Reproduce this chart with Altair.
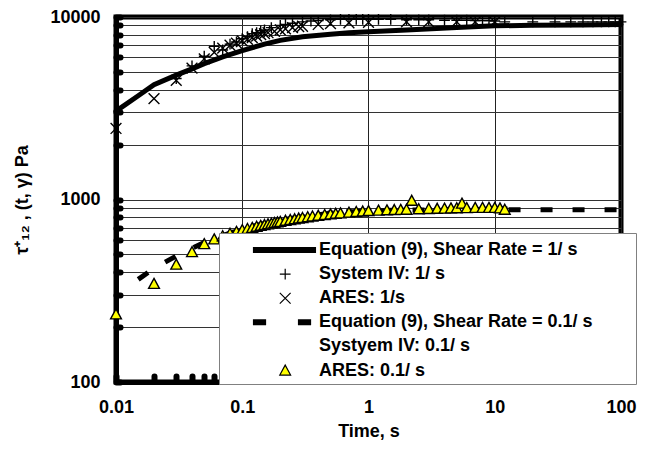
import altair as alt
import pandas as pd

FONT = "Liberation Sans"

series_names = [
    "Equation (9), Shear Rate = 1/ s",
    "System IV: 1/ s",
    "ARES: 1/s",
    "Equation (9), Shear Rate = 0.1/ s",
    "Systyem IV: 0.1/ s",
    "ARES: 0.1/ s",
]

# Equation (9), shear rate 1/s
eq1_t = [0.01, 0.015, 0.02, 0.03, 0.04, 0.05, 0.07, 0.1, 0.15, 0.2, 0.3, 0.5, 0.7, 1, 2, 5, 10, 20, 50, 100]
eq1_v = [3050, 3700, 4250, 4800, 5200, 5550, 6050, 6550, 7100, 7450, 7800, 8050, 8200, 8300, 8500, 8750, 8950, 9000, 9050, 9100]

# System IV: 1/s
sys1_t = [0.03, 0.04, 0.05, 0.06, 0.07, 0.08, 0.09, 0.1, 0.11, 0.12, 0.13, 0.14, 0.15, 0.17, 0.2, 0.22,
          0.25, 0.3, 0.35, 0.4, 0.5, 0.6, 0.7, 0.8, 0.9, 1, 1.2, 1.5, 2, 2.5, 3, 4, 5, 6, 7, 8, 9, 10,
          12, 20, 30, 40, 50, 60, 70, 80, 90, 100]
sys1_v = [4600, 5400, 6100, 6900, 6600, 7100, 7300, 7600, 7800, 8100, 8200, 8400, 8500, 8750, 9000, 9100,
          9250, 9400, 9500, 9550, 9650, 9700, 9700, 9700, 9700, 9700, 9700, 9700, 9650, 9650, 9650, 9600,
          9600, 9600, 9550, 9550, 9550, 9500, 9400, 9400, 9400, 9400, 9400, 9400, 9400, 9400, 9400, 9400]

# ARES: 1/s
ares1_t = [0.01, 0.02, 0.03, 0.04, 0.05, 0.06, 0.07, 0.08, 0.09, 0.1, 0.11, 0.12, 0.13, 0.14, 0.15, 0.16,
           0.18, 0.2, 0.22, 0.25, 0.28, 0.3, 0.4, 0.5, 0.7, 1, 2, 3, 5, 7, 10]
ares1_v = [2450, 3570, 4500, 5250, 5900, 6400, 6750, 7000, 7200, 7400, 7550, 7700, 7850, 8000, 8100, 8200,
           8350, 8500, 8600, 8750, 8850, 8900, 9100, 9200, 9300, 9350, 9400, 9400, 9400, 9400, 9400]

# Equation (9), shear rate 0.1/s
eq01_t = [0.015, 0.02, 0.03, 0.04, 0.05, 0.07, 0.1, 0.15, 0.2, 0.3, 0.5, 0.7, 1, 2, 5, 10, 20, 50, 100]
eq01_v = [365, 420, 490, 540, 580, 635, 690, 740, 770, 805, 840, 855, 865, 875, 880, 880, 880, 880, 880]

# Systyem IV: 0.1/s
sys01_t = [0.2, 0.3, 0.5, 0.7, 1, 1.5, 2, 2.5, 3, 4, 5, 6, 7, 8, 9, 10, 11, 12]
sys01_v = [760, 800, 840, 855, 865, 870, 875, 875, 878, 880, 880, 882, 882, 885, 885, 885, 885, 885]

# ARES: 0.1/s
ares01_t = [0.01, 0.02, 0.03, 0.04, 0.05, 0.06, 0.07, 0.08, 0.09, 0.1, 0.11, 0.12, 0.13, 0.14, 0.15, 0.16,
            0.17, 0.18, 0.19, 0.2, 0.22, 0.24, 0.26, 0.28, 0.3, 0.33, 0.36, 0.4, 0.45, 0.5, 0.55, 0.6,
            0.7, 0.8, 0.9, 1, 1.2, 1.4, 1.6, 1.8, 2, 2.2, 2.5, 3, 3.5, 4, 4.5, 5, 5.5, 6, 7, 8, 9, 10, 11, 12]
ares01_v = [235, 345, 440, 515, 570, 605, 630, 650, 665, 680, 690, 700, 710, 718, 725, 732,
            738, 744, 750, 755, 765, 773, 780, 787, 793, 800, 808, 815, 823, 830, 836, 840,
            848, 855, 860, 865, 870, 873, 876, 878, 880, 985, 885, 888, 890, 892, 895, 897, 950, 898,
            900, 900, 900, 900, 895, 880]

x_decades = [0.01, 0.1, 1, 10, 100]
x_minor = [0.01, 0.02, 0.03, 0.04, 0.05, 0.06, 0.07, 0.08, 0.09, 0.1, 0.2, 0.3, 0.4, 0.5, 0.6, 0.7, 0.8, 0.9,
           1, 2, 3, 4, 5, 6, 7, 8, 9, 10, 20, 30, 40, 50, 60, 70, 80, 90, 100]
y_all = [100, 200, 300, 400, 500, 600, 700, 800, 900, 1000, 2000, 3000, 4000, 5000, 6000, 7000, 8000, 9000, 10000]

# legend glyphs (unit = 12 px), drawn to the right of each entry's anchor
legend_paths = [
    "M1.46,-0.2L6.62,-0.2L6.62,0.2L1.46,0.2Z",
    "M3.65,0L4.55,0M4.1,-0.45L4.1,0.45",
    "M3.65,-0.45L4.55,0.45M3.65,0.45L4.55,-0.45",
    "M1.46,-0.2L2.46,-0.2L2.46,0.2L1.46,0.2ZM5.21,-0.2L6.21,-0.2L6.21,0.2L5.21,0.2Z",
    "M0,0L0,0.001",
    "M4.1,-0.45L4.55,0.38L3.65,0.38Z",
]
# the same glyphs centred, for the data markers
marker_paths = [
    "M-2.6,-0.2L2.6,-0.2L2.6,0.2L-2.6,0.2Z",
    "M-0.45,0L0.45,0M0,-0.45L0,0.45",
    "M-0.45,-0.45L0.45,0.45M-0.45,0.45L0.45,-0.45",
    "M-2.6,-0.2L-1.6,-0.2L-1.6,0.2L-2.6,0.2Z",
    "M0,0L0,0.001",
    "M0,-0.45L0.45,0.38L-0.45,0.38Z",
]
fill_colors = ["black", "transparent", "transparent", "black", "transparent", "#ffff00"]

df_eq1 = pd.DataFrame({"t": eq1_t, "v": eq1_v})
df_eq01 = pd.DataFrame({"t": eq01_t, "v": eq01_v})
df_sys01 = pd.DataFrame({"t": sys01_t, "v": sys01_v})
df_pts = pd.concat([
    pd.DataFrame({"t": sys1_t, "v": sys1_v, "series": series_names[1]}),
    pd.DataFrame({"t": ares1_t, "v": ares1_v, "series": series_names[2]}),
    pd.DataFrame({"t": ares01_t, "v": ares01_v, "series": series_names[5]}),
], ignore_index=True)
df_pts["order"] = range(len(df_pts))
df_leg = pd.DataFrame({"series": series_names, "t": [1] * 6, "v": [1000] * 6})

xs = alt.Scale(type="log", domain=[0.01, 100], nice=False)
ys = alt.Scale(type="log", domain=[100, 10000], nice=False)

x_main = alt.Axis(values=x_decades, orient="bottom", title="Time, s", format="~g",
                  grid=True, gridColor="#222222", gridWidth=1, ticks=False, tickSize=0,
                  domainColor="black", domainWidth=5,
                  labelFont=FONT, labelFontSize=18, labelFontWeight="bold", labelColor="black",
                  labelPadding=16, labelFlush=False, labelOverlap=False,
                  titleFont=FONT, titleFontSize=18, titleFontWeight="bold", titleColor="black",
                  titlePadding=6)
y_main = alt.Axis(values=y_all, orient="left", title="τ⁺₁₂ , (t, γ) Pa", format="d",
                  labelExpr="(datum.value == 100 || datum.value == 1000 || datum.value == 10000) ? datum.label : ''",
                  grid=True, gridColor="#333333", gridWidth=1, ticks=False, tickSize=0,
                  domainColor="black", domainWidth=5,
                  labelFont=FONT, labelFontSize=18, labelFontWeight="bold", labelColor="black",
                  labelPadding=16, labelFlush=False, labelOverlap=False,
                  titleFont=FONT, titleFontSize=18, titleFontWeight="bold", titleColor="black",
                  titlePadding=18)
x_dots = alt.Axis(values=x_minor, orient="bottom", title=None, labels=False, ticks=False, domain=False,
                  grid=True, gridColor="black", gridWidth=6, gridDash=[4, 3000], gridDashOffset=2645,
                  gridCap="round")
y_dots = alt.Axis(values=y_all, orient="left", title=None, labels=False, ticks=False, domain=False,
                  grid=True, gridColor="black", gridWidth=6, gridDash=[4, 3000], gridCap="round")

eq1 = alt.Chart(df_eq1).mark_line(color="black", strokeWidth=5, strokeCap="round").encode(
    x=alt.X("t:Q", scale=xs, axis=x_main),
    y=alt.Y("v:Q", scale=ys, axis=y_main),
)
eq01 = alt.Chart(df_eq01).mark_line(color="black", strokeWidth=5, strokeDash=[12, 20]).encode(
    x=alt.X("t:Q", scale=xs, axis=None),
    y=alt.Y("v:Q", scale=ys, axis=None),
)
sys01 = alt.Chart(df_sys01).mark_point(shape="square", filled=True, color="black", size=30, opacity=1).encode(
    x=alt.X("t:Q", scale=xs, axis=x_dots),
    y=alt.Y("v:Q", scale=ys, axis=y_dots),
)
pts = alt.Chart(df_pts).mark_point(filled=False, color="black", strokeWidth=1.4, size=576, opacity=1).encode(
    x=alt.X("t:Q", scale=xs, axis=None),
    y=alt.Y("v:Q", scale=ys, axis=None),
    shape=alt.Shape("series:N", scale=alt.Scale(domain=series_names, range=marker_paths), legend=None),
    fill=alt.Fill("series:N", scale=alt.Scale(domain=series_names, range=fill_colors), legend=None),
    stroke=alt.value("black"),
    order=alt.Order("order:Q"),
)

legend_def = alt.Legend(title=None, orient="none", legendX=103, legendY=216,
                        padding=4, strokeColor="#808080", fillColor="white",
                        labelFont=FONT, labelFontSize=18, labelFontWeight="bold",
                        labelColor="black", labelLimit=700, labelOffset=70,
                        labelExpr="datum.label + '\u2800\u2800\u2800'",
                        symbolSize=576, symbolStrokeColor="black", symbolStrokeWidth=1.2,
                        symbolOpacity=1, rowPadding=2.1)

# legend-only layer: its rows are filtered away, its explicit domain feeds the legend
leg = alt.Chart(df_leg).transform_filter("datum.v < 0").mark_point(
    filled=False, color="black", strokeWidth=1.2, size=576, opacity=1
).encode(
    x=alt.X("t:Q", scale=xs, axis=None),
    y=alt.Y("v:Q", scale=ys, axis=None),
    shape=alt.Shape("series:N", scale=alt.Scale(domain=series_names, range=legend_paths), legend=legend_def),
    fill=alt.Fill("series:N", scale=alt.Scale(domain=series_names, range=fill_colors), legend=legend_def),
    stroke=alt.Stroke("series:N", scale=alt.Scale(domain=series_names, range=["black"] * 6), legend=legend_def),
)

chart = alt.layer(eq1, eq01, sys01, pts, leg).resolve_axis(
    x="independent", y="independent"
).resolve_scale(
    shape="independent", fill="independent", stroke="independent"
).properties(
    width=505, height=365,
    padding={"left": 5, "top": 0, "right": 0, "bottom": 0},
).configure_view(stroke="black", strokeWidth=5)

chart.save("out.html", embed_options={"renderer": "svg", "actions": False})
